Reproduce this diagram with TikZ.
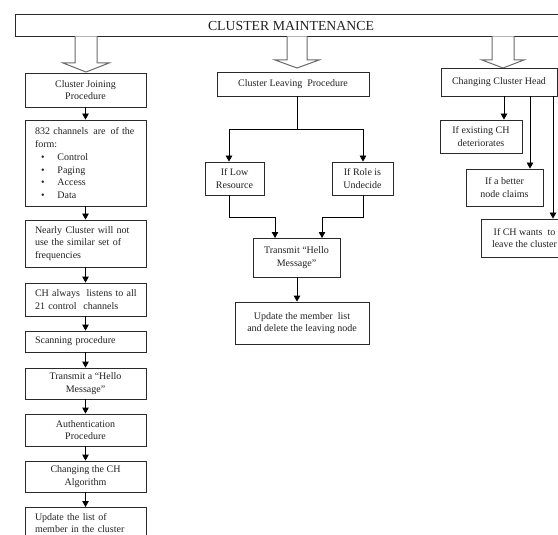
\documentclass[tikz,border=0pt]{standalone}
\usepackage{fontspec}
\setmainfont{Liberation Serif}
\usetikzlibrary{arrows.meta,calc}
\definecolor{boxline}{HTML}{2A2A2A}
\definecolor{hollow}{HTML}{6A6A6A}
\definecolor{txt}{HTML}{222222}
\begin{document}
\begin{tikzpicture}[x=1pt,y=-1pt,
  box/.style={draw=boxline,line width=0.8pt,fill=white,text=txt,inner sep=0pt,
    font=\fontsize{10}{12.5}\selectfont,align=center},
  lbox/.style={box,align=left,text width=101pt},
  arr/.style={draw=black,line width=0.8pt,-{Triangle[length=6pt,width=6.5pt]}},
  ln/.style={draw=black,line width=0.8pt},
  hollowarrow/.style={draw=hollow,line width=1pt,fill=white}]
\useasboundingbox (0,0) rectangle (558,535);

% title
\node[box,minimum width=560pt,minimum height=22pt,anchor=north west] (title) at (15,14) {};
\node[text=txt,font=\fontsize{13.8}{16}\selectfont,inner sep=0pt] (titletext) at (291,26) {CLUSTER MAINTENANCE};

% hollow arrows
\draw[hollowarrow] (75,36.4) -- (75,63) -- (63,63) -- (86,72) -- (109,63) -- (97,63) -- (97,36.4);
\draw[hollowarrow] (287,36.4) -- (287,60) -- (275,60) -- (297,68) -- (319,60) -- (307,60) -- (307,36.4);
\draw[hollowarrow] (492,36.4) -- (492,60) -- (482,60) -- (503,68) -- (524,60) -- (514,60) -- (514,36.4);

% left column
\node[box,minimum width=121pt,minimum height=34pt] (j1) at (85.5,90) {Cluster Joining\\Procedure};
\node[lbox,minimum width=121pt,minimum height=86pt] (j2) at (85.5,163)
  {\mbox{832 channels\hspace{5pt}are\hspace{5pt}of the}\\form:\\[1pt]
   \hspace*{6pt}\textbullet\hspace{13pt}Control\\
   \hspace*{6pt}\textbullet\hspace{13pt}Paging\\
   \hspace*{6pt}\textbullet\hspace{13pt}Access\\
   \hspace*{6pt}\textbullet\hspace{13pt}Data};
\node[lbox,minimum width=121pt,minimum height=47pt] (j3) at (85.5,243.5)
  {Nearly Cluster will not\\use the similar set\ of\\frequencies};
\node[lbox,minimum width=121pt,minimum height=33pt] (j4) at (85.5,299.5)
  {\mbox{CH always\ \ listens to all}\\21 control\ \ channels};
\node[lbox,minimum width=121pt,minimum height=21pt] (j5) at (85.5,341.5)
  {Scanning procedure};
\node[box,minimum width=121pt,minimum height=31pt] (j6) at (85.5,383.5) {Transmit a “Hello\\Message”};
\node[box,minimum width=121pt,minimum height=32pt] (j7) at (85.5,430) {Authentication\\Procedure};
\node[box,minimum width=121pt,minimum height=31pt] (j8) at (85.5,476.5) {Changing the CH\\Algorithm};
\node[lbox,minimum width=121pt,inner ysep=6pt,anchor=north] (j9) at (85.5,507)
  {Update the list of\\member in the cluster};
\foreach \a/\b in {j1/j2,j2/j3,j3/j4,j4/j5,j5/j6,j6/j7,j7/j8,j8/j9}
  \draw[arr] (\a.south) -- (\b.north);

% middle column
\node[box,minimum width=152pt,minimum height=24pt] (cl) at (293,84) {Cluster Leaving\ \ Procedure};
\node[box,minimum width=59pt,minimum height=33pt] (low) at (234.5,178.5) {If Low\\Resource};
\node[box,minimum width=61pt,minimum height=33pt] (role) at (362.5,178.5) {If Role is\\Undecide};
\node[box,minimum width=87pt,minimum height=39pt] (hello) at (296.5,257.5) {Transmit “Hello\\Message”};
\node[box,minimum width=134pt,minimum height=42pt] (upd) at (302,323) {Update the member\ \ list\\and delete the leaving node};
\coordinate (split) at (297,129);
\coordinate (lowout) at (229,195);
\coordinate (roleout) at (363,195);
\coordinate (lowin) at (275,238);
\coordinate (rolein) at (322,238);
\draw[ln] (cl.south -| split) -- (split);
\draw[arr] (split) -| (low.north -| lowout);
\draw[arr] (split) -| (role.north -| roleout);
\draw[arr] (lowout) -- ++(0,22) -| (lowin);
\draw[arr] (roleout) -- ++(0,22) -| (rolein);
\draw[arr] (hello.south -| split) -- (upd.north -| split);

% right column
\node[box,minimum width=116pt,minimum height=28pt] (ch) at (499,82) {Changing Cluster Head};
\node[box,minimum width=82pt,minimum height=33pt] (ex) at (481,136.5) {If existing CH\\deteriorates};
\node[box,minimum width=77pt,minimum height=37pt] (bet) at (504.5,187.5) {If a better\\node claims};
\node[box,minimum width=87pt,minimum height=38pt] (wants) at (524.5,238) {If CH wants\ \ to\\leave the cluster};
\coordinate (r1) at (504,96);
\coordinate (r2) at (530,96);
\coordinate (r3) at (553,96);
\draw[arr] (r1) -- (r1 |- ex.north);
\draw[arr] (r2) -- (r2 |- bet.north);
\draw[arr] (r3) -- (r3 |- wants.north);
\end{tikzpicture}
\end{document}
